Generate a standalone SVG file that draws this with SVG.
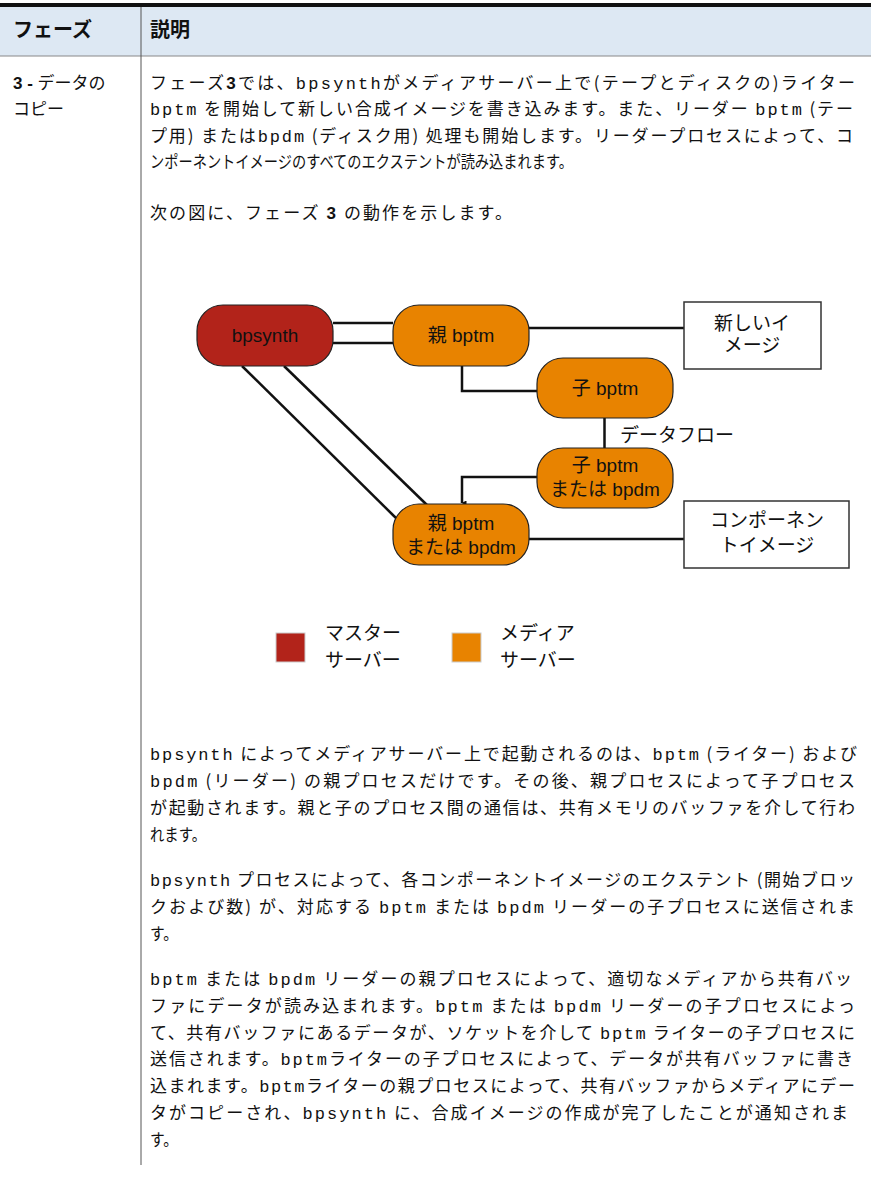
<svg xmlns="http://www.w3.org/2000/svg" width="871" height="1195" viewBox="0 0 871 1195">
<defs>
<style>
.hd{font-family:"Noto Sans CJK JP","Liberation Sans",sans-serif;font-size:20px;font-weight:bold;fill:#111}
.b{font-family:"Noto Sans CJK JP","Liberation Sans",sans-serif;font-size:17px;fill:#111}
.m{font-family:"Liberation Mono","Noto Sans CJK JP",monospace}
.n{font-family:"Liberation Sans","Noto Sans CJK JP",sans-serif;font-size:19px;fill:#111;text-anchor:middle}
.lg{font-family:"Liberation Sans","Noto Sans CJK JP",sans-serif;font-size:19px;fill:#111}
.red{fill:#b2231a;stroke:#222;stroke-width:1.2}
.org{fill:#e88300;stroke:#222;stroke-width:1.2}
.box{fill:#fff;stroke:#333;stroke-width:1.5}
.c{fill:none;stroke:#111;stroke-width:2.5}
</style>
<marker id="ah" viewBox="0 0 10 10" refX="5" refY="9" markerWidth="5" markerHeight="5" orient="auto" markerUnits="userSpaceOnUse">
<path d="M0,0 L10,0 L5,10 Z" fill="#111"/>
</marker>
</defs>
<rect width="871" height="1195" fill="#fff"/>
<g id="table">
<rect x="0" y="7" width="871" height="49" fill="#dde8f3"/>
<rect x="0" y="3" width="871" height="4" fill="#111"/>
<line x1="0" y1="56" x2="871" y2="56" stroke="#888" stroke-width="1"/>
<line x1="141" y1="7" x2="141" y2="1165" stroke="#555" stroke-width="1"/>
<text class="hd" x="13" y="37">フェーズ</text>
<text class="hd" x="150" y="37">説明</text>
<text class="b" x="13" y="89"><tspan font-family="Liberation Sans" font-weight="bold">3 - </tspan>データの</text>
<text class="b" x="13" y="115">コピー</text>
</g>
<g id="intro-text">
<text class="b" x="150" y="89" textLength="705" lengthAdjust="spacing">フェーズ<tspan font-family="Liberation Sans" font-weight="bold">3</tspan>では、<tspan class="m">bpsynth</tspan>がメディアサーバー上で(テープとディスクの)ライター</text>
<text class="b" x="150" y="115" textLength="703" lengthAdjust="spacing"><tspan class="m">bptm</tspan> を開始して新しい合成イメージを書き込みます。また、リーダー <tspan class="m">bptm</tspan> (テー</text>
<text class="b" x="150" y="142" textLength="703" lengthAdjust="spacing">プ用) または<tspan class="m">bpdm</tspan> (ディスク用) 処理も開始します。リーダープロセスによって、コ</text>
<text class="b" x="150" y="168" textLength="423" lengthAdjust="spacingAndGlyphs">ンポーネントイメージのすべてのエクステントが読み込まれます。</text>
<text class="b" x="150" y="219" textLength="362" lengthAdjust="spacing">次の図に、フェーズ <tspan font-family="Liberation Sans" font-weight="bold">3</tspan> の動作を示します。</text>
</g>
<g id="connectors">
<line class="c" x1="333" y1="323" x2="393" y2="323"/>
<line class="c" x1="333" y1="343" x2="393" y2="343"/>
<line class="c" x1="242" y1="366" x2="398" y2="520"/>
<line class="c" x1="284" y1="366" x2="428" y2="506"/>
<path class="c" d="M462,366 V391 H537"/>
<line class="c" x1="604.5" y1="418" x2="604.5" y2="448"/>
<path class="c" d="M537,477 H462 V503" marker-end="url(#ah)"/>
<line class="c" x1="529" y1="328" x2="684" y2="328"/>
<line class="c" x1="529" y1="539" x2="684" y2="539"/>
<text class="lg" x="620" y="442">データフロー</text>
</g>
<g id="node-bpsynth">
<rect class="red" x="197" y="305" width="136" height="61" rx="26"/>
<text class="n" x="265" y="342">bpsynth</text>
</g>
<g id="node-parent-bptm">
<rect class="org" x="393" y="305" width="136" height="61" rx="26"/>
<text class="n" x="461" y="342">親 bptm</text>
</g>
<g id="node-child-bptm">
<rect class="org" x="537" y="358" width="136" height="60" rx="26"/>
<text class="n" x="605" y="395">子 bptm</text>
</g>
<g id="node-child-bptm-bpdm">
<rect class="org" x="537" y="448" width="136" height="60" rx="26"/>
<text class="n" x="605" y="472">子 bptm</text>
<text class="n" x="605" y="496">または bpdm</text>
</g>
<g id="node-parent-bptm-bpdm">
<rect class="org" x="393" y="504" width="136" height="61" rx="26"/>
<text class="n" x="461" y="530">親 bptm</text>
<text class="n" x="461" y="554">または bpdm</text>
</g>
<g id="node-new-image">
<rect class="box" x="684" y="302" width="137" height="67"/>
<text class="n" x="752" y="330">新しいイ</text>
<text class="n" x="752" y="352">メージ</text>
</g>
<g id="node-component-image">
<rect class="box" x="684" y="501" width="165" height="67"/>
<text class="n" x="767" y="527">コンポーネン</text>
<text class="n" x="767" y="552">トイメージ</text>
</g>
<g id="legend">
<rect x="276" y="633" width="29" height="29" fill="#b2231a" stroke="#ccc" stroke-width="1"/>
<text class="lg" x="325" y="640">マスター</text>
<text class="lg" x="325" y="667">サーバー</text>
<rect x="452" y="633" width="29" height="29" fill="#e88300" stroke="#ccc" stroke-width="1"/>
<text class="lg" x="500" y="640">メディア</text>
<text class="lg" x="500" y="667">サーバー</text>
</g>
<g id="body-text">
<text class="b" x="150" y="760" textLength="707" lengthAdjust="spacing"><tspan class="m">bpsynth</tspan> によってメディアサーバー上で起動されるのは、<tspan class="m">bptm</tspan> (ライター) および</text>
<text class="b" x="150" y="787" textLength="705" lengthAdjust="spacing"><tspan class="m">bpdm</tspan> (リーダー) の親プロセスだけです。その後、親プロセスによって子プロセス</text>
<text class="b" x="150" y="814" textLength="705" lengthAdjust="spacing">が起動されます。親と子のプロセス間の通信は、共有メモリのバッファを介して行わ</text>
<text class="b" x="150" y="841" textLength="56" lengthAdjust="spacingAndGlyphs">れます。</text>
<text class="b" x="150" y="886" textLength="705" lengthAdjust="spacing"><tspan class="m">bpsynth</tspan> プロセスによって、各コンポーネントイメージのエクステント (開始ブロッ</text>
<text class="b" x="150" y="913" textLength="705" lengthAdjust="spacing">クおよび数) が、対応する <tspan class="m">bptm</tspan> または <tspan class="m">bpdm</tspan> リーダーの子プロセスに送信されま</text>
<text class="b" x="150" y="940" textLength="28" lengthAdjust="spacingAndGlyphs">す。</text>
<text class="b" x="150" y="985" textLength="702" lengthAdjust="spacing"><tspan class="m">bptm</tspan> または <tspan class="m">bpdm</tspan> リーダーの親プロセスによって、適切なメディアから共有バッ</text>
<text class="b" x="150" y="1012" textLength="705" lengthAdjust="spacing">ファにデータが読み込まれます。<tspan class="m">bptm</tspan> または <tspan class="m">bpdm</tspan> リーダーの子プロセスによっ</text>
<text class="b" x="150" y="1039" textLength="705" lengthAdjust="spacing">て、共有バッファにあるデータが、ソケットを介して <tspan class="m">bptm</tspan> ライターの子プロセスに</text>
<text class="b" x="150" y="1065" textLength="703" lengthAdjust="spacing">送信されます。<tspan class="m">bptm</tspan>ライターの子プロセスによって、データが共有バッファに書き</text>
<text class="b" x="150" y="1092" textLength="705" lengthAdjust="spacing">込まれます。<tspan class="m">bptm</tspan>ライターの親プロセスによって、共有バッファからメディアにデー</text>
<text class="b" x="150" y="1119" textLength="698" lengthAdjust="spacing">タがコピーされ、<tspan class="m">bpsynth</tspan> に、合成イメージの作成が完了したことが通知されま</text>
<text class="b" x="150" y="1146" textLength="28" lengthAdjust="spacingAndGlyphs">す。</text>
</g>
</svg>
